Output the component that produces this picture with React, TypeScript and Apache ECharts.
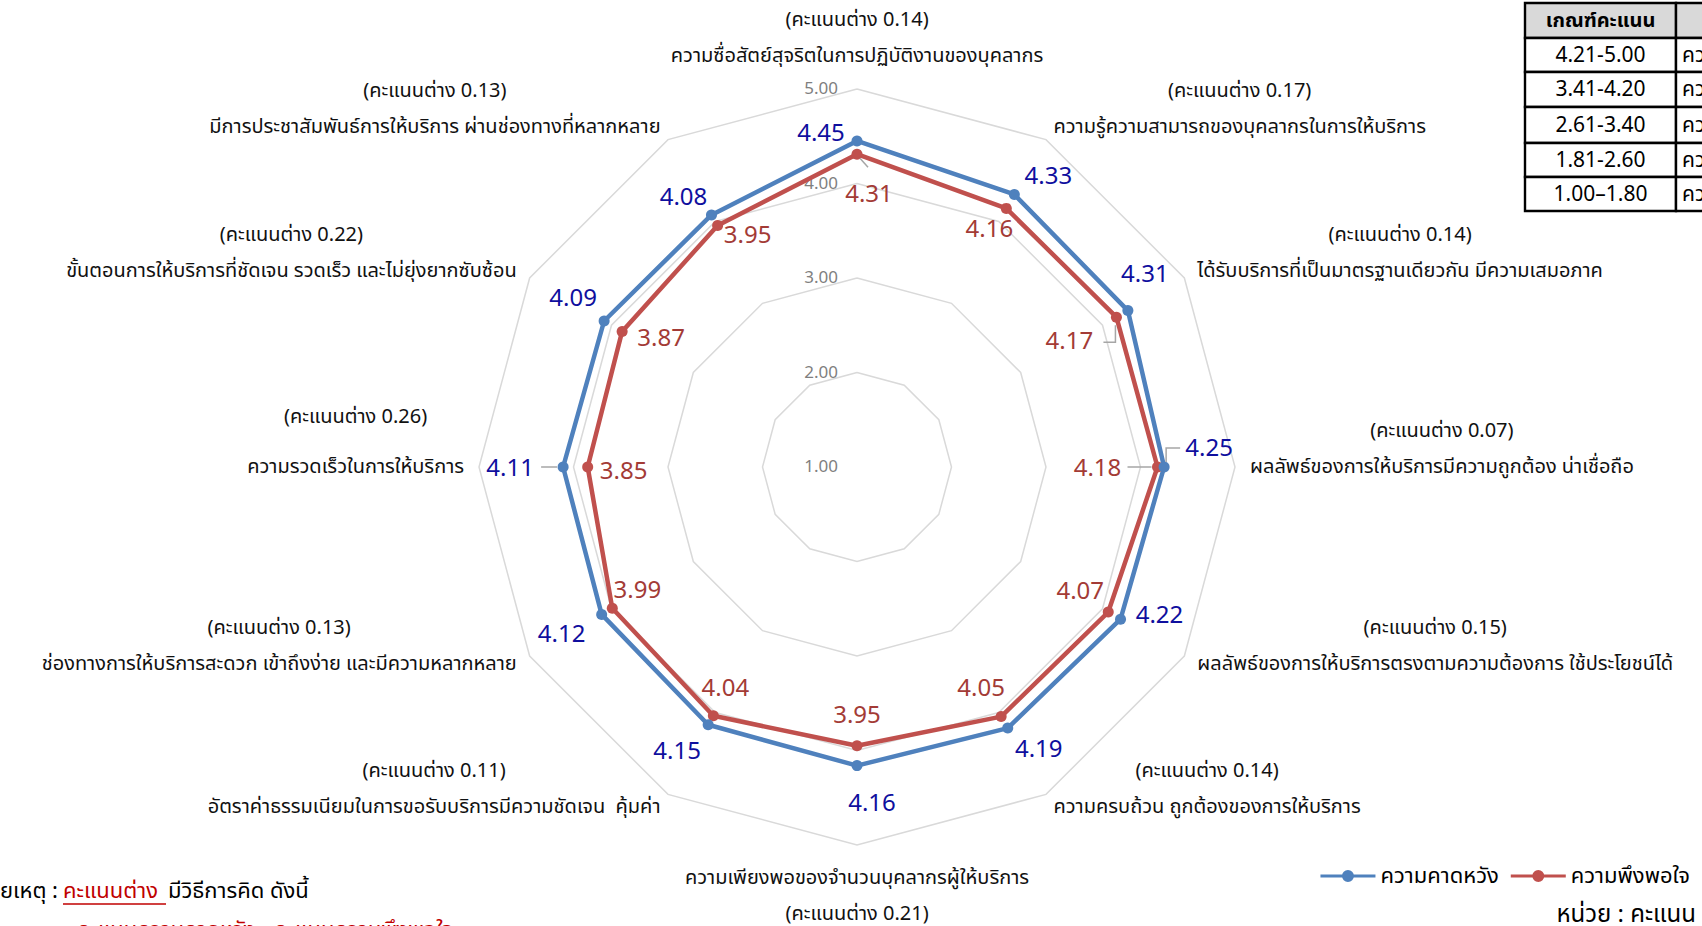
import React, { useEffect, useRef } from 'react';
import * as echarts from 'echarts';

// ---------- data ----------
const categories = [
  'ความซื่อสัตย์สุจริตในการปฏิบัติงานของบุคลากร',
  'ความรู้ความสามารถของบุคลากรในการให้บริการ',
  'ได้รับบริการที่เป็นมาตรฐานเดียวกัน มีความเสมอภาค',
  'ผลลัพธ์ของการให้บริการมีความถูกต้อง น่าเชื่อถือ',
  'ผลลัพธ์ของการให้บริการตรงตามความต้องการ ใช้ประโยชน์ได้',
  'ความครบถ้วน ถูกต้องของการให้บริการ',
  'ความเพียงพอของจำนวนบุคลากรผู้ให้บริการ',
  'อัตราค่าธรรมเนียมในการขอรับบริการมีความชัดเจน  คุ้มค่า',
  'ช่องทางการให้บริการสะดวก เข้าถึงง่าย และมีความหลากหลาย',
  'ความรวดเร็วในการให้บริการ',
  'ขั้นตอนการให้บริการที่ชัดเจน รวดเร็ว และไม่ยุ่งยากซับซ้อน',
  'มีการประชาสัมพันธ์การให้บริการ ผ่านช่องทางที่หลากหลาย',
];
const expectation = [4.45, 4.33, 4.31, 4.25, 4.22, 4.19, 4.16, 4.15, 4.12, 4.11, 4.09, 4.08];
const satisfaction = [4.31, 4.16, 4.17, 4.18, 4.07, 4.05, 3.95, 4.04, 3.99, 3.85, 3.87, 3.95];
const scoreDiff = [0.14, 0.17, 0.14, 0.07, 0.15, 0.14, 0.21, 0.11, 0.13, 0.26, 0.22, 0.13];
const seriesNames = ['ความคาดหวัง', 'ความพึงพอใจ'];
const radialMin = 1;
const radialMax = 5;
const criteriaHeader = 'เกณฑ์คะแนน';
const criteriaRanges = ['4.21-5.00', '3.41-4.20', '2.61-3.40', '1.81-2.60', '1.00–1.80'];
const criteriaLevels = ['ความพึงพอใจมากที่สุด', 'ความพึงพอใจมาก', 'ความพึงพอใจปานกลาง', 'ความพึงพอใจน้อย', 'ความพึงพอใจน้อยที่สุด'];

// ---------- layout / style ----------
const FONT = "Tahoma, 'Leelawadee UI', 'Noto Sans Thai', 'Noto Sans', 'DejaVu Sans', sans-serif";
const BLUE = '#4f81bd';
const RED = '#c0504d';
const BLUE_TXT = '#0f0f9e';
const RED_TXT = '#a33b36';
const LEADER = '#a6a6a6';
// label offsets (px) from each vertex, clockwise from top
const blueOffset = [[-36, -7], [34, -17], [17, -36], [45, -18], [39, -3], [31, 22], [15, 38], [-31, 27], [-40, 21], [-53, 2], [-31, -22], [-28, -17]];
const redOffset = [[12, 41], [-17, 22], [-47, 25], [-60, 2], [-28, -20], [-20, -28], [0, -30], [12, -27], [25, -17], [36, 5], [39, 8], [30, 10]];
// leader lines: [series 0=blue 1=red, vertex index, relative points]
const leaders: [number, number, number[][]][] = [
  [1, 0, [[3, 4], [11, 13]]],
  [1, 2, [[-1, 8], [-1, 25], [-13, 25]]],
  [0, 3, [[2, -5], [2, -19], [16, -19]]],
  [1, 3, [[-6, 0], [-30, 0]]],
  [0, 9, [[-6, 0], [-22, 0]]],
];

// radar axes go counter-clockwise in ECharts; reorder to get a clockwise layout
const order = categories.map((_, k) => (k === 0 ? 0 : categories.length - k));
const axisOf = (i: number) => order.indexOf(i);

function nameFormatter(name: string) {
  const i = categories.indexOf(name);
  const d = `{d|(คะแนนต่าง ${scoreDiff[i].toFixed(2)})}`;
  const n = `{n|${name}}`;
  if (i === 0) return `${d}\n${n}`;
  if (i === 6) return `${n}\n${d}`;
  if (i === 9) return `${d}\n{s| }\n${n}\n{s| }\n{e| }`;
  return `${d}\n${n}\n{e| }`;
}

function staticGraphics(): any[] {
  const g: any[] = [];
  // criteria table (top-right, clipped by the page edge)
  const x0 = 1525, x1 = 1676, x2 = 1800;
  const rows = [3, 38, 72, 107, 143, 177, 211];
  for (let r = 0; r < rows.length - 1; r++) {
    const y = rows[r];
    const h = rows[r + 1] - rows[r];
    const fill = r === 0 ? '#d9d9d9' : '#ffffff';
    g.push({ type: 'rect', shape: { x: x0, y, width: x1 - x0, height: h }, style: { fill, stroke: '#000', lineWidth: 2.4 } });
    g.push({ type: 'rect', shape: { x: x1, y, width: x2 - x1, height: h }, style: { fill, stroke: '#000', lineWidth: 2.4 } });
    const t0 = r === 0 ? criteriaHeader : criteriaRanges[r - 1];
    g.push({ type: 'text', x: (x0 + x1) / 2, y: y + h / 2, style: { text: t0, fill: '#000', fontSize: r === 0 ? 20 : 21, fontWeight: r === 0 ? 'bold' : 'normal', fontFamily: FONT, align: 'center', verticalAlign: 'middle' } });
    if (r > 0) {
      g.push({ type: 'text', x: x1 + 6, y: y + h / 2, style: { text: criteriaLevels[r - 1], fill: '#000', fontSize: 21, fontFamily: FONT, align: 'left', verticalAlign: 'middle' } });
    }
  }
  // note, bottom-left (clipped by the page edge)
  g.push({ type: 'text', x: 58, y: 891, style: { text: 'หมายเหตุ :', fill: '#000', fontSize: 22, fontFamily: FONT, align: 'right', verticalAlign: 'middle' } });
  g.push({ type: 'text', x: 63, y: 891, style: { text: 'คะแนนต่าง', fill: '#c00000', fontSize: 22, fontFamily: FONT, align: 'left', verticalAlign: 'middle' } });
  g.push({ type: 'line', shape: { x1: 63, y1: 904, x2: 166, y2: 904 }, style: { stroke: '#c00000', lineWidth: 1.5 } });
  g.push({ type: 'text', x: 168, y: 891, style: { text: 'มีวิธีการคิด ดังนี้', fill: '#000', fontSize: 22, fontFamily: FONT, align: 'left', verticalAlign: 'middle' } });
  g.push({ type: 'text', x: 77, y: 930, style: { text: 'คะแนนความคาดหวัง - คะแนนความพึงพอใจ', fill: '#c00000', fontSize: 22, fontFamily: FONT, align: 'left', verticalAlign: 'middle' } });
  // unit
  g.push({ type: 'text', x: 1696, y: 915, style: { text: 'หน่วย : คะแนน', fill: '#000', fontSize: 24, fontFamily: FONT, align: 'right', verticalAlign: 'middle' } });
  return g;
}

export default function App() {
  const ref = useRef<HTMLDivElement>(null);
  useEffect(() => {
    if (!ref.current) return;
    const chart = echarts.init(ref.current, null, { renderer: 'svg' });
    const nameStyle = { fontSize: 20, lineHeight: 36, color: '#111111', fontFamily: FONT, align: 'center' };
    const option: any = {
      animation: false,
      backgroundColor: '#ffffff',
      textStyle: { fontFamily: FONT },
      legend: {
        data: seriesNames,
        right: 7,
        top: 860,
        itemWidth: 55,
        itemHeight: 12,
        itemGap: 12,
        selectedMode: false,
        icon: 'path://M0,4.5L55,4.5L55,7.5L0,7.5Z M33.5,6A6,6 0 1,1 21.5,6A6,6 0 1,1 33.5,6Z',
        textStyle: { fontSize: 22, color: '#000', fontFamily: FONT },
      },
      radar: {
        center: [857, 467],
        radius: 378,
        startAngle: 90,
        splitNumber: 4,
        shape: 'polygon',
        nameGap: 15,
        axisName: {
          formatter: nameFormatter,
          color: '#111111',
          fontFamily: FONT,
          fontSize: 20,
          rich: {
            d: nameStyle,
            n: nameStyle,
            e: { fontSize: 20, lineHeight: 36 },
            s: { fontSize: 10, lineHeight: 14 },
          },
        },
        splitLine: { lineStyle: { color: '#d9d9d9', width: 1.5 } },
        splitArea: { show: false },
        axisLine: { show: false },
        axisTick: { show: false },
        axisLabel: { show: false },
        indicator: order.map((i, k) => {
          const ind: any = { name: categories[i], min: radialMin, max: radialMax };
          if (k === 0) {
            ind.axisLabel = {
              show: true,
              margin: 19,
              color: '#7f7f7f',
              fontSize: 17,
              fontFamily: FONT,
              formatter: (v: number) => Number(v).toFixed(2),
            };
          }
          return ind;
        }),
      },
      series: [
        {
          type: 'radar',
          symbol: 'circle',
          symbolSize: 11,
          label: { show: false },
          data: [
            {
              name: seriesNames[1],
              value: order.map((i) => satisfaction[i]),
              itemStyle: { color: RED },
              lineStyle: { color: RED, width: 4.5 },
            },
            {
              name: seriesNames[0],
              value: order.map((i) => expectation[i]),
              itemStyle: { color: BLUE },
              lineStyle: { color: BLUE, width: 4.5 },
            },
          ],
        },
      ],
      graphic: staticGraphics(),
    };
    chart.setOption(option);

    // value labels placed through the radar coordinate system
    try {
      const cs = (chart as any).getModel().getComponent('radar', 0).coordinateSystem;
      const extra: any[] = [];
      const sets = [expectation, satisfaction];
      leaders.forEach(([s, i, pts]) => {
        const p = cs.dataToPoint(sets[s][i], axisOf(i));
        extra.push({
          type: 'polyline',
          z: 40,
          shape: { points: pts.map((q) => [p[0] + q[0], p[1] + q[1]]) },
          style: { stroke: LEADER, lineWidth: 1.5, fill: null },
        });
      });
      const add = (vals: number[], offs: number[][], color: string) => {
        vals.forEach((v, i) => {
          const p = cs.dataToPoint(v, axisOf(i));
          extra.push({
            type: 'text',
            x: p[0] + offs[i][0],
            y: p[1] + offs[i][1],
            z: 50,
            style: { text: v.toFixed(2), fill: color, fontSize: 24, fontFamily: FONT, align: 'center', verticalAlign: 'middle' },
          });
        });
      };
      add(expectation, blueOffset, BLUE_TXT);
      add(satisfaction, redOffset, RED_TXT);
      chart.setOption({ graphic: [...staticGraphics(), ...extra] }, { replaceMerge: ['graphic'] });
    } catch (e) {
      chart.setOption({ series: [{ label: { show: true, formatter: (p: any) => Number(p.value).toFixed(2) } }] });
    }
    return () => chart.dispose();
  }, []);
  return <div ref={ref} style={{ position: 'fixed', left: 0, top: 0, width: 1702, height: 926 }} />;
}
